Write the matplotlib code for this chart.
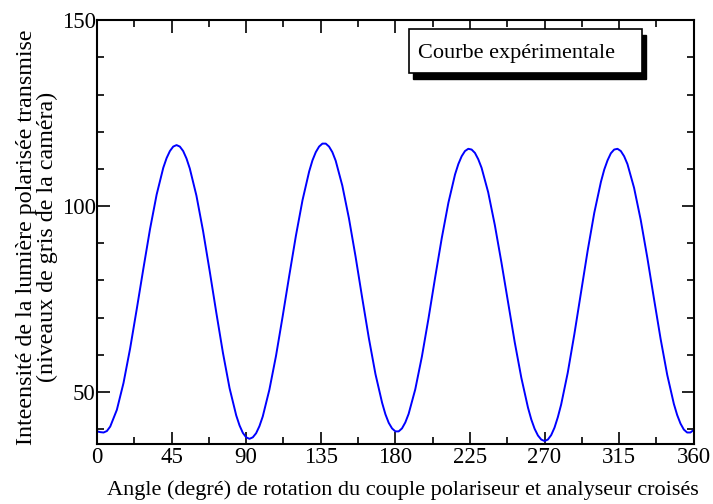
import matplotlib
matplotlib.use("Agg")
import matplotlib.pyplot as plt
from matplotlib.patches import Rectangle
from matplotlib.ticker import MultipleLocator

plt.rcParams['font.family'] = ['Liberation Serif', 'DejaVu Serif']

# angle (deg) and grey level
angle = [0, 2, 4, 6, 8, 12, 16, 20, 24, 28,
         32, 36, 40, 42, 44, 46, 48, 50, 52, 54,
         56, 60, 64, 68, 72, 76, 80, 84, 86, 88,
         90, 92, 94, 96, 98, 100, 104, 108, 112, 116,
         120, 124, 128, 130, 132, 134, 136, 138, 140, 142,
         144, 148, 152, 156, 160, 164, 168, 172, 174, 176,
         178, 180, 182, 184, 186, 188, 192, 196, 200, 204,
         208, 212, 216, 218, 220, 222, 224, 226, 228, 230,
         232, 236, 240, 244, 248, 252, 256, 260, 262, 264,
         266, 268, 270, 272, 274, 276, 278, 280, 284, 288,
         292, 296, 300, 304, 306, 308, 310, 312, 314, 316,
         318, 320, 324, 328, 332, 336, 340, 344, 348, 350,
         352, 354, 356, 358, 360]
intensite = [39.4, 39.2, 39.1, 39.5, 40.7, 45.2, 52.4, 61.7, 72.3, 83.2,
             93.8, 103.1, 110.3, 112.9, 114.8, 116.0, 116.4, 116.0, 114.8, 112.8,
             110.1, 102.8, 93.3, 82.5, 71.3, 60.5, 51.0, 43.7, 41.0, 39.0,
             37.8, 37.4, 37.8, 38.9, 40.8, 43.4, 50.6, 59.7, 70.3, 81.3,
             92.0, 101.6, 109.3, 112.3, 114.5, 116.0, 116.8, 116.8, 116.0, 114.5,
             112.2, 105.5, 96.7, 86.4, 75.3, 64.5, 54.8, 47.1, 44.0, 41.7,
             40.2, 39.4, 39.4, 40.2, 41.8, 44.1, 50.7, 59.5, 69.8, 80.8,
             91.4, 100.9, 108.5, 111.3, 113.4, 114.8, 115.4, 115.2, 114.3, 112.6,
             110.3, 103.7, 94.9, 84.8, 74.1, 63.4, 53.8, 45.8, 42.6, 40.1,
             38.3, 37.2, 36.8, 37.2, 38.4, 40.4, 43.2, 46.6, 55.2, 65.6,
             76.8, 88.0, 98.2, 106.5, 109.8, 112.3, 114.2, 115.2, 115.4, 114.8,
             113.4, 111.3, 104.9, 96.3, 86.1, 75.1, 64.3, 54.6, 46.8, 43.8,
             41.5, 39.9, 39.1, 39.1, 39.8]

fig = plt.figure(figsize=(7.13, 5.04), dpi=100)
ax = fig.add_axes([0.136, 0.119, 0.837, 0.841])

ax.plot(angle, intensite, color="#0000ff", lw=1.4, solid_joinstyle='round')

ax.set_xlim(0, 360)
ax.set_ylim(36, 150)
ax.xaxis.set_major_locator(MultipleLocator(45))
ax.xaxis.set_minor_locator(MultipleLocator(22.5))
ax.yaxis.set_major_locator(MultipleLocator(50))
ax.yaxis.set_minor_locator(MultipleLocator(10))
ax.tick_params(which='both', direction='in', top=True, right=True, width=1.2)
ax.tick_params(which='major', length=9)
ax.tick_params(which='minor', length=5)
ax.tick_params(axis='x', labelsize=16.5, pad=2)
ax.tick_params(axis='y', labelsize=16.5, pad=1)
for s in ax.spines.values():
    s.set_linewidth(1.5)

ax.set_xlabel("Angle (degré) de rotation du couple polariseur et analyseur croisés",
              fontsize=16)
ax.set_ylabel("Inteensité de la lumière polarisée transmise\n(niveaux de gris de la caméra)",
              fontsize=17.3, linespacing=0.95)
ax.xaxis.set_label_coords(0.513, -0.085)
ax.yaxis.set_label_coords(-0.066, 0.489)

# legend box with black drop shadow
ax.add_patch(Rectangle((0.530, 0.862), 0.39, 0.104, transform=ax.transAxes,
                       fc='black', ec='black', lw=1, zorder=4))
ax.add_patch(Rectangle((0.523, 0.875), 0.39, 0.104, transform=ax.transAxes,
                       fc='white', ec='black', lw=1.2, zorder=5))
ax.text(0.538, 0.921, "Courbe expérimentale", transform=ax.transAxes,
        fontsize=16, va='center', ha='left', zorder=6)

fig.savefig("out.png", dpi=100)
